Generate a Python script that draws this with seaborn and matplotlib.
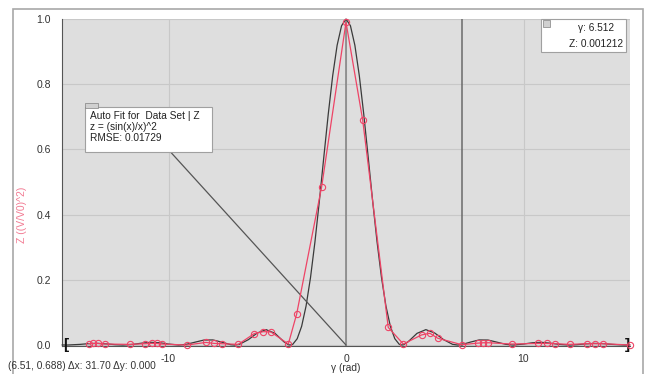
import numpy as np
import pandas as pd
import matplotlib
matplotlib.use("Agg")
import matplotlib.pyplot as plt
from matplotlib.patches import Rectangle
import seaborn as sns

# Measured data set (red)
data_x = [-14.5, -14.25, -13.97, -13.6, -12.17, -11.3, -10.95, -10.67, -10.39, -8.97,
          -7.89, -7.44, -7.0, -6.07, -5.17, -4.66, -4.23, -3.25, -2.78, -1.37,
          0.0, 0.94, 2.38, 3.23, 4.26, 4.73, 5.16, 6.52, 7.46, 7.74,
          8.02, 9.34, 10.83, 11.3, 11.77, 12.6, 13.56, 14.03, 14.5, 16.0]
data_z = [0.004, 0.005, 0.005, 0.003, 0.002, 0.004, 0.005, 0.005, 0.003, 0.0,
          0.008, 0.005, 0.004, 0.002, 0.035, 0.041, 0.040, 0.003, 0.095, 0.486,
          0.99, 0.69, 0.054, 0.003, 0.031, 0.036, 0.021, 0.001, 0.006, 0.007,
          0.007, 0.003, 0.005, 0.005, 0.004, 0.002, 0.004, 0.004, 0.004, 0.0]

# Auto fit curve (black), positive half, mirrored below
fit_half_x = [0, 0.25, 0.5, 0.75, 1.0, 1.25, 1.5, 1.75, 2.0, 2.25, 2.5, 2.75, 3.0,
              3.1416, 3.25, 3.5, 4.0, 4.5, 5.0, 5.5, 6.0, 6.2832, 6.5, 7.0, 7.5,
              8.0, 8.5, 9.0, 9.4248, 10.0, 10.5, 11.0, 11.5, 12.0, 12.5664, 13.0,
              13.5, 14.0, 14.5, 15.0, 15.708, 16.0]
fit_half_z = [1.0, 0.9793, 0.9194, 0.8260, 0.7081, 0.5764, 0.4422, 0.3162, 0.2067,
              0.1196, 0.0573, 0.0193, 0.0022, 0.0, 0.0011, 0.0100, 0.0358, 0.0472,
              0.0368, 0.0165, 0.0022, 0.0, 0.0011, 0.0088, 0.0156, 0.0153, 0.0088,
              0.0021, 0.0, 0.0030, 0.0070, 0.0083, 0.0058, 0.0020, 0.0, 0.0010,
              0.0035, 0.0050, 0.0042, 0.0019, 0.0, 0.0003]

x_ticks = [-10, 0, 10]
y_ticks = [0.0, 0.2, 0.4, 0.6, 0.8, 1.0]
cursor_x = 6.512

fit = pd.DataFrame({
    "x": [-v for v in fit_half_x[:0:-1]] + fit_half_x,
    "z": fit_half_z[:0:-1] + fit_half_z,
})
meas = pd.DataFrame({"x": data_x, "z": data_z})

sns.set_style("white")
plt.rcParams["font.family"] = ["Liberation Sans", "DejaVu Sans"]
plt.rcParams["axes.unicode_minus"] = False

fig = plt.figure(figsize=(6.45, 3.74), dpi=100)
ax = fig.add_axes([62 / 645, 1 - 346 / 374, (630 - 62) / 645, (346 - 19) / 374])
ax.set_facecolor("#dedede")

# outer frame
fig.patches.append(Rectangle((13 / 645, -0.1), (643 - 13) / 645, 1.1 - 9 / 374,
                             transform=fig.transFigure, fill=False,
                             edgecolor="#a8a8a8", lw=1.2, zorder=0))

ax.set_xlim(-16, 16)
ax.set_ylim(-0.003, 1.0)
ax.set_xticks(x_ticks)
ax.set_xticks(np.arange(-16, 17, 2), minor=True)
ax.set_yticks(y_ticks)
ax.set_yticks(np.arange(0, 1.01, 0.1), minor=True)
ax.set_yticklabels([f"{v:.1f}" for v in y_ticks])
ax.grid(True, which="major", color="#c8c8c8", lw=0.8)
ax.set_axisbelow(True)
for s in ["top", "right"]:
    ax.spines[s].set_visible(False)
ax.spines["left"].set_color("#555555")
ax.spines["left"].set_linewidth(0.8)
ax.spines["bottom"].set_color("#555555")
ax.spines["bottom"].set_linewidth(0.8)
ax.tick_params(axis="both", which="major", direction="out", length=6, width=0.8,
               color="#555555", labelsize=7.5, labelcolor="#333333", pad=2)
ax.tick_params(axis="both", which="minor", direction="out", length=3, width=0.8,
               color="#555555")
ax.tick_params(axis="x", which="major", length=4, pad=2)
ax.tick_params(axis="x", which="minor", length=3)

# examine / cursor lines
ax.axvline(0, color="#808080", lw=1.1, zorder=2)
ax.axvline(cursor_x, color="#6a6a6a", lw=1.1, zorder=2)

sns.lineplot(data=fit, x="x", y="z", ax=ax, color="#3a3a3a", lw=0.9,
             sort=False, zorder=3, clip_on=False)
sns.lineplot(data=meas, x="x", y="z", ax=ax, color="#ee4466", lw=0.9,
             marker="o", markersize=4.5, markerfacecolor="none",
             markeredgecolor="#ee4466", markeredgewidth=0.8,
             sort=False, zorder=4, clip_on=False)

ax.set_xlabel("γ (rad)", fontsize=7.3, color="#333333", labelpad=-1)
ax.set_ylabel("")
fig.text(22 / 645, 1 - 215 / 374, "Z ((V/V0)^2)", rotation=90, color="#f27a92",
         fontsize=7.5, ha="center", va="center")

# fit range brackets
ax.text(-15.8, 0.0, "[", fontsize=11, color="#111111", ha="center", va="center",
        fontweight="bold")
ax.text(15.85, 0.0, "]", fontsize=11, color="#111111", ha="center", va="center",
        fontweight="bold")

# auto fit annotation
ax.plot([-9.9, 0], [0.593, 0], color="#555555", lw=0.9, zorder=3)
ax.add_patch(Rectangle((-14.7, 0.593), 7.15, 0.137, facecolor="white",
                       edgecolor="#a0a0a0", lw=0.8, zorder=5))
ax.add_patch(Rectangle((-14.7, 0.726), 0.75, 0.016, facecolor="#d0d0d0",
                       edgecolor="#808080", lw=0.5, zorder=6, clip_on=False))
ax.text(-14.45, 0.719, "Auto Fit for  Data Set | Z\nz = (sin(x)/x)^2\nRMSE: 0.01729",
        fontsize=7.3, color="#222222", va="top", ha="left", linespacing=1.15,
        zorder=6)

# cursor readout box
ax.add_patch(Rectangle((11.0, 0.899), 4.8, 0.101, facecolor="white",
                       edgecolor="#a0a0a0", lw=0.8, zorder=5, clip_on=False))
ax.add_patch(Rectangle((11.1, 0.975), 0.4, 0.022, facecolor="#d0d0d0",
                       edgecolor="#808080", lw=0.5, zorder=6, clip_on=False))
ax.text(15.1, 0.972, f"γ: {cursor_x:.3f}", fontsize=7.3, color="#222222",
        ha="right", va="center", zorder=6)
ax.text(15.6, 0.924, "Z: 0.001212", fontsize=7.3, color="#222222",
        ha="right", va="center", zorder=6)

fig.text(8 / 645, 1 - 366 / 374, "(6.51, 0.688) Δx: 31.70 Δy: 0.000",
         fontsize=7.3, color="#333333", ha="left", va="center")

fig.savefig("out.png", dpi=100)
